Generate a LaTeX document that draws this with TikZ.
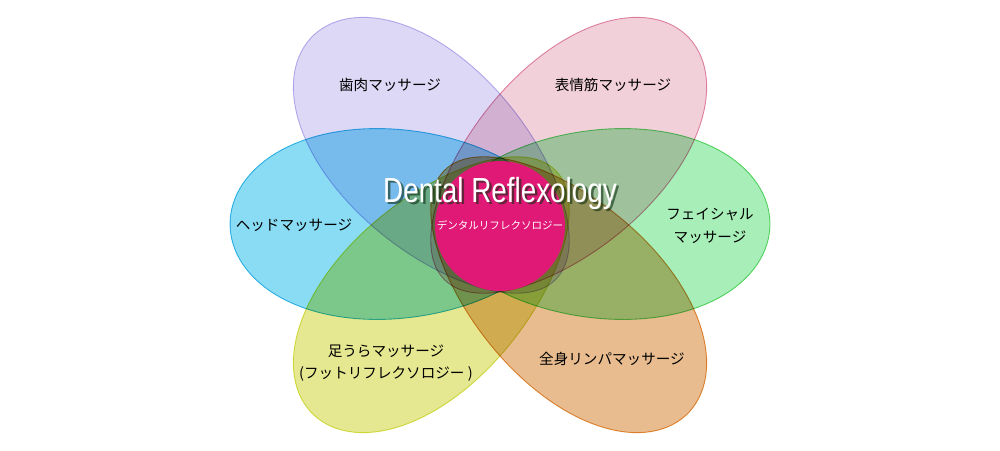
\documentclass[tikz,border=0pt]{standalone}
\usepackage{fontspec}
\usepackage{graphicx}
\setmainfont{Liberation Sans}
\newfontfamily\jpfont{Noto Sans CJK JP}

\definecolor{gumfill}{RGB}{221,216,246}
\definecolor{gumline}{RGB}{190,182,240}
\definecolor{facefill}{RGB}{242,208,218}
\definecolor{faceline}{RGB}{228,140,172}
\definecolor{headfill}{RGB}{138,220,245}
\definecolor{headline}{RGB}{60,190,232}
\definecolor{facialfill}{RGB}{168,238,184}
\definecolor{facialline}{RGB}{100,218,110}
\definecolor{footfill}{RGB}{229,232,144}
\definecolor{footline}{RGB}{218,228,80}
\definecolor{bodyfill}{RGB}{232,188,142}
\definecolor{bodyline}{RGB}{232,150,60}
\definecolor{hubcolor}{RGB}{225,25,118}
\definecolor{glow}{RGB}{10,45,15}

\begin{document}
\begin{tikzpicture}[x=0.02cm,y=-0.02cm]
\tikzset{petal/.style = {line width=0.5pt}}
\tikzset{pics/egg/.style 2 args = {code = {\draw[pic actions] plot[domain=0:360,samples=120,variable=\t] ({#1*cos(\t)},{#2*sin(\t)*(1-0.1*cos(\t))}) -- cycle;}}}
\tikzset{hub/.style = {shape=circle,fill=hubcolor,minimum size=2.6cm,inner sep=0pt}}
\tikzset{title/.style = {anchor=base,inner sep=0pt,text=white,font=\fontsize{19.8}{22}\selectfont}}
\tikzset{glowtext/.style = {title,text=glow,opacity=0.6}}
\tikzset{subtitle/.style = {inner sep=0pt,text=white,font=\jpfont\fontsize{6}{7}\selectfont}}
\tikzset{label/.style = {inner sep=0pt,align=center,font=\jpfont\fontsize{8.3}{12.8}\selectfont}}

\fill[white] (0,0) rectangle (1000,450);
\useasboundingbox (0,0) rectangle (1000,450);

%petals
\begin{scope}[blend group=multiply]
\pic[petal, fill=gumfill, draw=gumline, rotate=-45] (gum) at (434,158) {egg={172}{92}};
\pic[petal, fill=facefill, draw=faceline, rotate=-135] (face) at (566,158) {egg={172}{92}};
\pic[petal, fill=headfill, draw=headline] (head) at (393,224) {egg={163}{95}};
\pic[petal, fill=facialfill, draw=facialline, rotate=180] (facial) at (607,224) {egg={163}{95}};
\pic[petal, fill=footfill, draw=footline, rotate=45] (foot) at (434,292) {egg={172}{92}};
\pic[petal, fill=bodyfill, draw=bodyline, rotate=135] (body) at (566,292) {egg={172}{92}};
\end{scope}

%centre
\node[hub] (hub) at (500,226) {};
\node[glowtext] (glow) at (502.5,204.5) {\scalebox{0.8}[1]{Dental Reflexology}};
\node[title] (title) at (500,202) {\scalebox{0.8}[1]{Dental Reflexology}};
\node[subtitle] (subtitle) at (500,225) {デンタルリフレクソロジー};

%labels
\node[label] (gumlabel) at (390,85) {歯肉マッサージ};
\node[label] (facelabel) at (613,85) {表情筋マッサージ};
\node[label] (headlabel) at (294,225) {ヘッドマッサージ};
\node[label] (faciallabel) at (710,226) {フェイシャル\\マッサージ};
\node[label] (footlabel) at (386,363) {足うらマッサージ\\(フットリフレクソロジー )};
\node[label] (bodylabel) at (612,359) {全身リンパマッサージ};
\end{tikzpicture}
\end{document}
